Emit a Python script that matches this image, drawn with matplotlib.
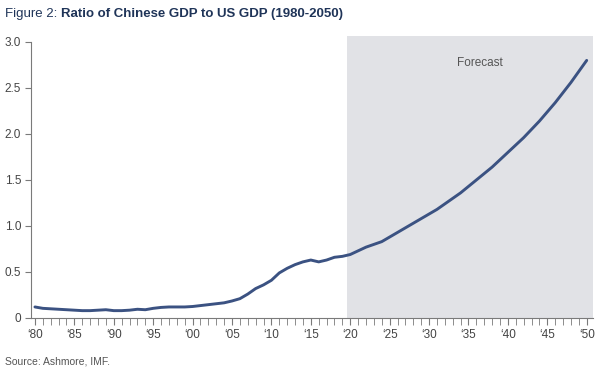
import numpy as np
import matplotlib
matplotlib.use("Agg")
import matplotlib.pyplot as plt
from matplotlib import font_manager

# -------------------------------
# DATA
# -------------------------------
years = list(range(1980, 2051))
ratio = [
    0.12, 0.105, 0.10, 0.095, 0.09, 0.085, 0.08, 0.08, 0.085, 0.09,   # 1980-89
    0.08, 0.08, 0.085, 0.095, 0.09, 0.105, 0.115, 0.12, 0.12, 0.12,   # 1990-99
    0.125, 0.135, 0.145, 0.155, 0.165, 0.185, 0.21, 0.26, 0.32, 0.36, # 2000-09
    0.41, 0.49, 0.54, 0.58, 0.61, 0.63, 0.61, 0.63, 0.66, 0.67,       # 2010-19
    0.69, 0.73, 0.77, 0.80, 0.83, 0.88, 0.93, 0.98, 1.03, 1.08,       # 2020-29
    1.13, 1.18, 1.24, 1.30, 1.36, 1.43, 1.50, 1.57, 1.64, 1.72,       # 2030-39
    1.80, 1.88, 1.96, 2.05, 2.14, 2.24, 2.34, 2.45, 2.56, 2.68,       # 2040-49
    2.80,                                                             # 2050
]
forecast_start = 2019.6
x_ticks = list(range(1980, 2051, 5))
x_labels = ["\u2018" + str(y)[2:] for y in x_ticks]
y_ticks = [0, 0.5, 1.0, 1.5, 2.0, 2.5, 3.0]
y_labels = ["0", "0.5", "1.0", "1.5", "2.0", "2.5", "3.0"]

# -------------------------------
# STYLE
# -------------------------------
names = {f.name for f in font_manager.fontManager.ttflist}
font = "Liberation Sans Narrow" if "Liberation Sans Narrow" in names else "Liberation Sans"
plt.rcParams["font.family"] = [font, "DejaVu Sans"]

navy = "#3b5282"
title_navy = "#1f3458"
grey_txt = "#444444"
spine_col = "#7a7a7a"
shade = "#e1e2e6"

fig = plt.figure(figsize=(6.05, 3.71), dpi=100)
ax = fig.add_axes([31 / 605, 53 / 371, 562 / 605, 282 / 371])

ax.set_xlim(1979.5, 2050.8)
ax.set_ylim(0, 3.065)

ax.axvspan(forecast_start, 2050.8, color=shade, lw=0, zorder=0)
ax.plot(years, ratio, color=navy, lw=2.1, solid_capstyle="round", zorder=3)

ax.text(2036.5, 2.77, "Forecast", ha="center", va="center",
        fontsize=8.5, color="#555555")

# axes cosmetics
for s in ["top", "right"]:
    ax.spines[s].set_visible(False)
ax.spines["left"].set_color(spine_col)
ax.spines["bottom"].set_color(spine_col)
ax.spines["left"].set_bounds(0, 3.0)

ax.set_xticks(x_ticks)
ax.set_xticklabels(x_labels)
ax.set_xticks(years, minor=True)
ax.tick_params(axis="x", which="both", direction="out", length=5,
               color=spine_col, labelsize=8.5, labelcolor=grey_txt, pad=3)
ax.set_yticks(y_ticks)
ax.set_yticklabels(y_labels)
ax.tick_params(axis="y", direction="out", length=4, color=spine_col,
               labelsize=8.5, labelcolor=grey_txt, pad=3)

# title + source
fig.text(5 / 605, 1 - 14 / 371, "Figure 2:", fontsize=9.5, color=title_navy,
         va="center", ha="left")
fig.text(61 / 605, 1 - 14 / 371, "Ratio of Chinese GDP to US GDP (1980-2050)",
         fontsize=9.5, color=title_navy, fontweight="bold", va="center", ha="left")
fig.text(5 / 605, 1 - 361 / 371, "Source: Ashmore, IMF.", fontsize=7.5,
         color="#555555", va="center", ha="left")

fig.savefig("out.png", dpi=100)
